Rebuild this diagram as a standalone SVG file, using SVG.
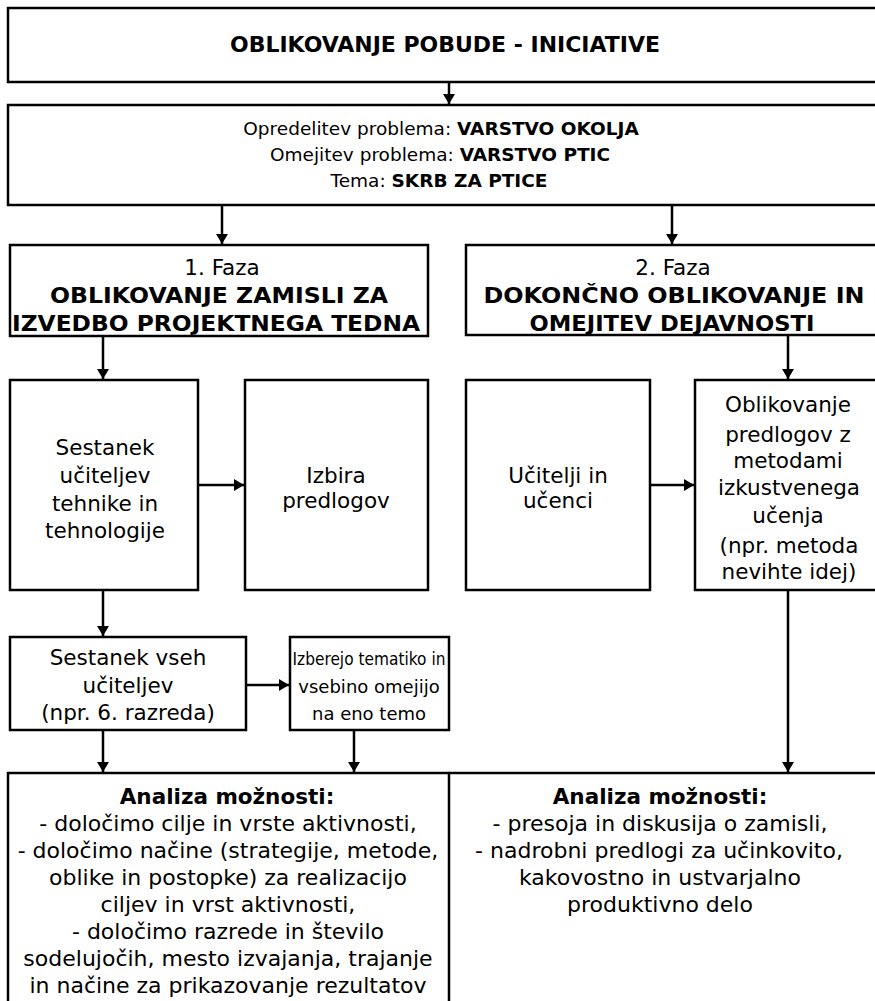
<svg xmlns="http://www.w3.org/2000/svg" width="875" height="1001" viewBox="0 0 875 1001">
<style>
.box{fill:#fff;stroke:#000;stroke-width:2.5}
.ln{stroke:#000;stroke-width:2.5;fill:none}
text{font-family:"DejaVu Sans","Liberation Sans",Arial,sans-serif;font-size:21.5px;fill:#000;text-anchor:middle}
.b{font-weight:bold}
.h{font-weight:bold;font-size:21px}
.p{font-size:18.5px}
.s{font-size:18px}
.a{font-size:22px}
</style>
<defs>
<marker id="ah" viewBox="0 0 10 12" refX="10" refY="6" markerWidth="10" markerHeight="12" markerUnits="userSpaceOnUse" orient="auto">
<path d="M0,0 L10,6 L0,12 z" fill="#000"/>
</marker>
</defs>
<rect width="875" height="1001" fill="#fff"/>
<g id="connectors">
<line class="ln" x1="449" y1="82" x2="449" y2="104" marker-end="url(#ah)"/>
<line class="ln" x1="222" y1="205" x2="222" y2="244" marker-end="url(#ah)"/>
<line class="ln" x1="672" y1="205" x2="672" y2="244" marker-end="url(#ah)"/>
<line class="ln" x1="103" y1="336" x2="103" y2="379" marker-end="url(#ah)"/>
<line class="ln" x1="788" y1="335" x2="788" y2="379" marker-end="url(#ah)"/>
<line class="ln" x1="198" y1="485" x2="244" y2="485" marker-end="url(#ah)"/>
<line class="ln" x1="650" y1="485" x2="694" y2="485" marker-end="url(#ah)"/>
<line class="ln" x1="103" y1="590" x2="103" y2="636" marker-end="url(#ah)"/>
<line class="ln" x1="246" y1="685" x2="289" y2="685" marker-end="url(#ah)"/>
<line class="ln" x1="103" y1="730" x2="103" y2="772" marker-end="url(#ah)"/>
<line class="ln" x1="354" y1="730" x2="354" y2="772" marker-end="url(#ah)"/>
<line class="ln" x1="788" y1="590" x2="788" y2="772" marker-end="url(#ah)"/>
</g>
<g id="n-pobuda">
<rect class="box" x="8" y="8" width="880" height="74"/>
<text class="h" x="445" y="52" textLength="430" lengthAdjust="spacingAndGlyphs">OBLIKOVANJE  POBUDE  -  INICIATIVE</text>
</g>
<g id="n-problem">
<rect class="box" x="8" y="105" width="880" height="100"/>
<text class="p" x="441" y="135">Opredelitev problema: <tspan class="b">VARSTVO OKOLJA</tspan></text>
<text class="p" x="440" y="161">Omejitev problema: <tspan class="b">VARSTVO PTIC</tspan></text>
<text class="p" x="439" y="187">Tema: <tspan class="b">SKRB ZA PTICE</tspan></text>
</g>
<g id="n-faza1">
<rect class="box" x="10" y="245" width="418" height="91"/>
<text x="222" y="275">1. Faza</text>
<text class="h" x="219" y="303" textLength="338" lengthAdjust="spacingAndGlyphs">OBLIKOVANJE  ZAMISLI  ZA</text>
<text class="h" x="216" y="331" textLength="408" lengthAdjust="spacingAndGlyphs">IZVEDBO  PROJEKTNEGA  TEDNA</text>
</g>
<g id="n-faza2">
<rect class="box" x="466" y="245" width="420" height="90"/>
<text x="673" y="275">2. Faza</text>
<text class="h" x="674" y="303" textLength="381" lengthAdjust="spacingAndGlyphs">DOKONČNO  OBLIKOVANJE  IN</text>
<text class="h" x="672" y="331" textLength="285" lengthAdjust="spacingAndGlyphs">OMEJITEV  DEJAVNOSTI</text>
</g>
<g id="n-sestanek-tt">
<rect class="box" x="10" y="380" width="188" height="210"/>
<text x="105" y="455">Sestanek</text>
<text x="105" y="483">učiteljev</text>
<text x="105" y="511">tehnike in</text>
<text x="105" y="538">tehnologije</text>
</g>
<g id="n-izbira">
<rect class="box" x="245" y="380" width="183" height="210"/>
<text x="336" y="483">Izbira</text>
<text x="336" y="508">predlogov</text>
</g>
<g id="n-ucitelji">
<rect class="box" x="466" y="380" width="184" height="210"/>
<text x="558" y="483">Učitelji in</text>
<text x="558" y="508">učenci</text>
</g>
<g id="n-oblikovanje">
<rect class="box" x="695" y="380" width="190" height="210"/>
<text x="788" y="412">Oblikovanje</text>
<text x="788" y="442">predlogov z</text>
<text x="788" y="468">metodami</text>
<text x="789" y="495">izkustvenega</text>
<text x="788" y="523">učenja</text>
<text x="789" y="553">(npr. metoda</text>
<text x="789" y="579">nevihte idej)</text>
</g>
<g id="n-sestanek-vsi">
<rect class="box" x="10" y="637" width="236" height="93"/>
<text x="128" y="665">Sestanek vseh</text>
<text x="128" y="693">učiteljev</text>
<text x="128" y="720">(npr. 6. razreda)</text>
</g>
<g id="n-izberejo">
<rect class="box" x="290" y="637" width="159" height="93"/>
<text class="s" x="369" y="665" textLength="153" lengthAdjust="spacingAndGlyphs">Izberejo tematiko in</text>
<text class="s" x="369" y="693">vsebino omejijo</text>
<text class="s" x="369" y="720">na eno temo</text>
</g>
<g id="n-analiza1">
<path class="ln" d="M8,1010 V773 H449 V1010"/>
<text class="b" x="227" y="804">Analiza možnosti:</text>
<text class="a" x="228" y="831">- določimo cilje in vrste aktivnosti,</text>
<text class="a" x="228" y="858">- določimo načine (strategije, metode,</text>
<text class="a" x="228" y="885">oblike in postopke) za realizacijo</text>
<text class="a" x="228" y="912">ciljev in vrst aktivnosti,</text>
<text class="a" x="228" y="939">- določimo razrede in število</text>
<text class="a" x="228" y="966">sodelujočih, mesto izvajanja, trajanje</text>
<text class="a" x="228" y="993">in načine za prikazovanje rezultatov</text>
</g>
<g id="n-analiza2">
<path class="ln" d="M449,773 H885"/>
<text class="b" x="660" y="804">Analiza možnosti:</text>
<text class="a" x="660" y="831">- presoja in diskusija o zamisli,</text>
<text class="a" x="659" y="858">- nadrobni predlogi za učinkovito,</text>
<text class="a" x="660" y="885">kakovostno in ustvarjalno</text>
<text class="a" x="660" y="912">produktivno delo</text>
</g>
</svg>
